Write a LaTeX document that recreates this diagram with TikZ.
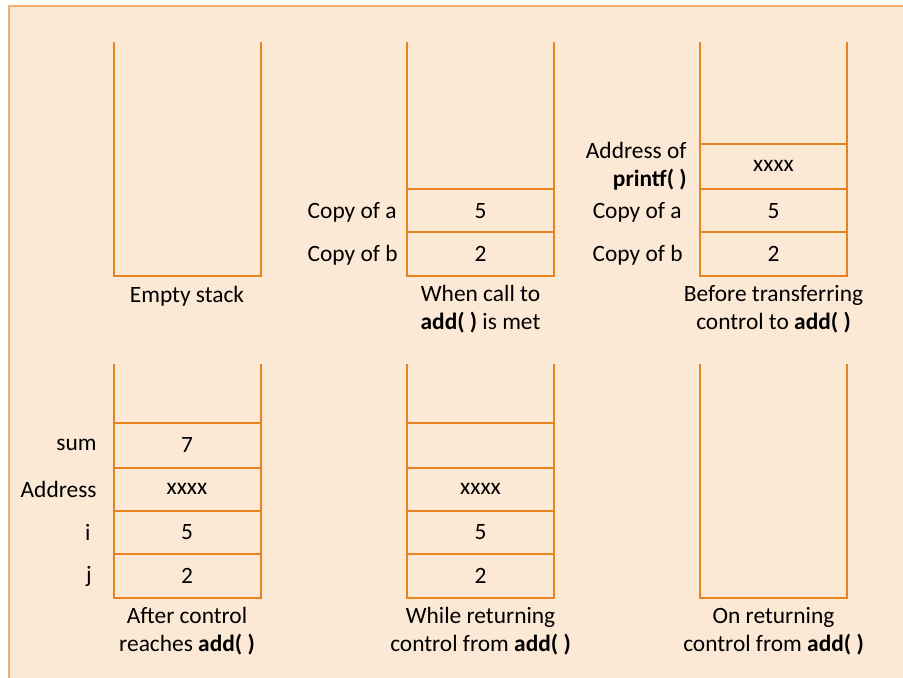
\documentclass[tikz,border=0pt]{standalone}
\usepackage{fontspec}
\setmainfont{Carlito}
\definecolor{bgpeach}{HTML}{FBE8D5}
\definecolor{frameorange}{HTML}{EFB070}
\definecolor{stackorange}{HTML}{E8841F}
\tikzset{
  stackline/.style={draw=stackorange, line width=1pt},
  val/.style={font=\fontsize{11.7}{14}\selectfont, inner sep=0pt},
  tag/.style={val, anchor=east, align=right},
  caption/.style={val, align=center}
}
\begin{document}
\begin{tikzpicture}[x=0.5pt,y=-0.5pt]
    \useasboundingbox (0,0) rectangle (903,677);
    \clip (0,0) rectangle (903,677);
    % background panel
    \fill[bgpeach] (9,6) rectangle (920,690);
    \draw[frameorange, line width=1.3pt] (9,690) -- (9,6) -- (920,6);

    % stack outlines, top row
    \foreach \xl in {114,407,700}
        \draw[stackline] (\xl,42) -- (\xl,276) -- (\xl+147,276) -- (\xl+147,42);
    % stack outlines, bottom row
    \foreach \xl in {114,407,700}
        \draw[stackline] (\xl,364) -- (\xl,598) -- (\xl+147,598) -- (\xl+147,364);

    % cell borders
    \foreach \yy in {189,232} \draw[stackline] (407,\yy) -- (554,\yy);
    \foreach \yy in {144,189,232} \draw[stackline] (700,\yy) -- (847,\yy);
    \foreach \xl in {114,407}
        \foreach \yy in {423,468,511,554} \draw[stackline] (\xl,\yy) -- (\xl+147,\yy);

    % first stack
    \node[caption] (capEmpty) at (187,296) {Empty stack};

    % second stack
    \node[tag] (tCopyA) at (397,212) {Copy of a};
    \node[tag] (tCopyB) at (398,255) {Copy of b};
    \node[val] (vA) at (480.5,211) {5};
    \node[val] (vB) at (480.5,254) {2};
    \node[caption] (capCall) at (480.5,309) {When call to\\\textbf{add( )} is met};

    % third stack
    \node[tag] (tAddr) at (687,166) {Address of\\\textbf{printf( )}};
    \node[tag] (tCopyA3) at (682,212) {Copy of a};
    \node[tag] (tCopyB3) at (683,255) {Copy of b};
    \node[val] (vRet) at (773.5,166) {xxxx};
    \node[val] (vA3) at (773.5,211) {5};
    \node[val] (vB3) at (773.5,254) {2};
    \node[caption] (capBefore) at (773.5,309) {Before transferring\\control to \textbf{add( )}};

    % fourth stack
    \node[tag] (tSum) at (97,445) {sum};
    \node[tag] (tAddress) at (97,489) {Address};
    \node[tag] (tI) at (91,532) {i};
    \node[tag] (tJ) at (92,576) {j};
    \node[val] (vSum) at (187,445) {7};
    \node[val] (vRet4) at (187,489) {xxxx};
    \node[val] (vI) at (187,532) {5};
    \node[val] (vJ) at (187,576) {2};
    \node[caption] (capAfter) at (187,631) {After control\\reaches \textbf{add( )}};

    % fifth stack
    \node[val] (vRet5) at (480.5,489) {xxxx};
    \node[val] (vI5) at (480.5,532) {5};
    \node[val] (vJ5) at (480.5,576) {2};
    \node[caption] (capWhile) at (480.5,631) {While returning\\control from \textbf{add( )}};

    % sixth stack
    \node[caption] (capOn) at (773.5,631) {On returning\\control from \textbf{add( )}};
\end{tikzpicture}
\end{document}
